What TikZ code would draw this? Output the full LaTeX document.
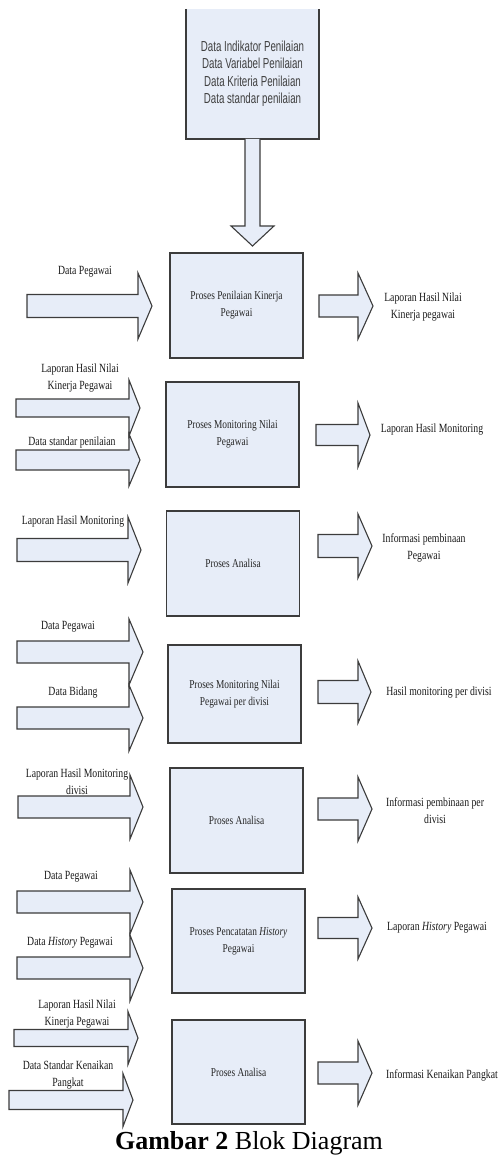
\documentclass[tikz,border=0pt]{standalone}
\usepackage{fontspec}
\setmainfont{Liberation Serif}
\newfontfamily\lblfont[FakeStretch=0.78]{Liberation Serif}
\newfontfamily\datafont[FakeStretch=0.67]{Liberation Sans}
\definecolor{boxfill}{HTML}{E7EDF8}
\definecolor{edge}{HTML}{3C3C3C}

% block arrow: start x, head base x, tip x, centre y, half shaft, half head
\newcommand{\barrow}[6]{%
  \filldraw[blockarrow] (#1,#4-#5) -- (#2,#4-#5) -- (#2,#4-#6) -- (#3,#4)
    -- (#2,#4+#6) -- (#2,#4+#5) -- (#1,#4+#5) -- cycle;}

\begin{document}
\begin{tikzpicture}[
        x=1pt, y=-1pt,
        procbox/.style={rectangle, draw=edge, fill=boxfill, line width=1.2pt,
            minimum width=133pt, minimum height=105pt, align=center,
            text=black!85, font=\lblfont\fontsize{12}{17}\selectfont},
        lbl/.style={align=center, inner sep=0pt, text=black!90,
            font=\lblfont\fontsize{12.5}{17}\selectfont},
        blockarrow/.style={draw=edge, fill=boxfill, line width=1.1pt, line join=miter}
    ]
        \useasboundingbox (0,0) rectangle (499,1155);

        % Data box (cut at the top)
        \fill[boxfill] (186,9) rectangle (319,139);
        \draw[edge, line width=1.2pt] (186,9) -- (186,139) -- (319,139) -- (319,9);
        \node[align=center, text=black!75, font=\datafont\fontsize{14.5}{17.5}\selectfont]
            (data) at (252.5,74) {Data Indikator Penilaian\\Data Variabel Penilaian\\
            Data Kriteria Penilaian\\Data standar penilaian};
        \filldraw[blockarrow] (245,139) -- (245,226) -- (231,226) -- (252.5,246)
            -- (274,226) -- (260,226) -- (260,139);

        % Processes
        \node[procbox] (p1) at (236.5,305.5) {Proses Penilaian Kinerja\\Pegawai};
        \node[procbox] (p2) at (232.5,434.5) {Proses Monitoring Nilai\\Pegawai};
        \node[procbox] (p3) at (233,563.5) {Proses Analisa};
        \node[procbox, minimum height=98pt] (p4) at (234.5,694) {Proses Monitoring Nilai\\Pegawai per divisi};
        \node[procbox] (p5) at (236.5,820.5) {Proses Analisa};
        \node[procbox, minimum height=104pt] (p6) at (238.5,941) {Proses Pencatatan \textit{History}\\Pegawai};
        \node[procbox, minimum height=104pt] (p7) at (238.5,1072) {Proses Analisa};

        % Block arrows
        \barrow{27}{138}{152}{306}{11.5}{33}
        \barrow{319}{358}{373}{306}{11}{33}
        \barrow{16}{129}{140}{408}{9}{28}
        \barrow{16}{129}{140}{460}{10}{26}
        \barrow{316}{358}{370}{435}{10.5}{32}
        \barrow{17}{128}{141}{550}{11.5}{33}
        \barrow{318}{358}{372}{546}{11.5}{32}
        \barrow{17}{129}{143}{652}{11}{33}
        \barrow{17}{129}{143}{718}{11}{33}
        \barrow{318}{358}{371}{692}{11.5}{31}
        \barrow{18}{130}{143}{807}{11}{32}
        \barrow{318}{358}{372}{809}{11}{32}
        \barrow{17}{130}{143}{902}{11}{32}
        \barrow{17}{130}{143}{968}{11}{33}
        \barrow{318}{358}{372}{928}{10.5}{31}
        \barrow{14}{128}{138}{1038}{8.5}{26.5}
        \barrow{9}{123}{133}{1100}{9.5}{26.5}
        \barrow{318}{358}{372}{1073}{11}{32}

        % Inputs
        \node[lbl] (in1) at (85,272) {Data Pegawai};
        \node[lbl] (in2a) at (80,378.5) {Laporan Hasil Nilai\\Kinerja Pegawai};
        \node[lbl] (in2b) at (72,442) {Data standar penilaian};
        \node[lbl] (in3) at (73,522) {Laporan Hasil Monitoring};
        \node[lbl] (in4a) at (68,627) {Data Pegawai};
        \node[lbl] (in4b) at (73,693) {Data Bidang};
        \node[lbl] (in5) at (77,782) {Laporan Hasil Monitoring\\divisi};
        \node[lbl] (in6a) at (71,877) {Data Pegawai};
        \node[lbl] (in6b) at (70,943) {Data \textit{History} Pegawai};
        \node[lbl] (in7a) at (77,1013.5) {Laporan Hasil Nilai\\Kinerja Pegawai};
        \node[lbl] (in7b) at (68,1074.5) {Data Standar Kenaikan\\Pangkat};

        % Outputs
        \node[lbl] (out1) at (423,307.5) {Laporan Hasil Nilai\\Kinerja pegawai};
        \node[lbl] (out2) at (432,430) {Laporan Hasil Monitoring};
        \node[lbl] (out3) at (424,548) {Informasi pembinaan\\Pegawai};
        \node[lbl] (out4) at (439,693) {Hasil monitoring per divisi};
        \node[lbl] (out5) at (435,811) {Informasi pembinaan per\\divisi};
        \node[lbl] (out6) at (437,928) {Laporan \textit{History} Pegawai};
        \node[lbl] (out7) at (442,1075) {Informasi Kenaikan Pangkat};

        % Caption
        \node[anchor=base, inner sep=0pt, font=\fontsize{26}{30}\selectfont] (cap) at (249,1149)
            {\textbf{Gambar 2} Blok Diagram};
    \end{tikzpicture}
\end{document}
